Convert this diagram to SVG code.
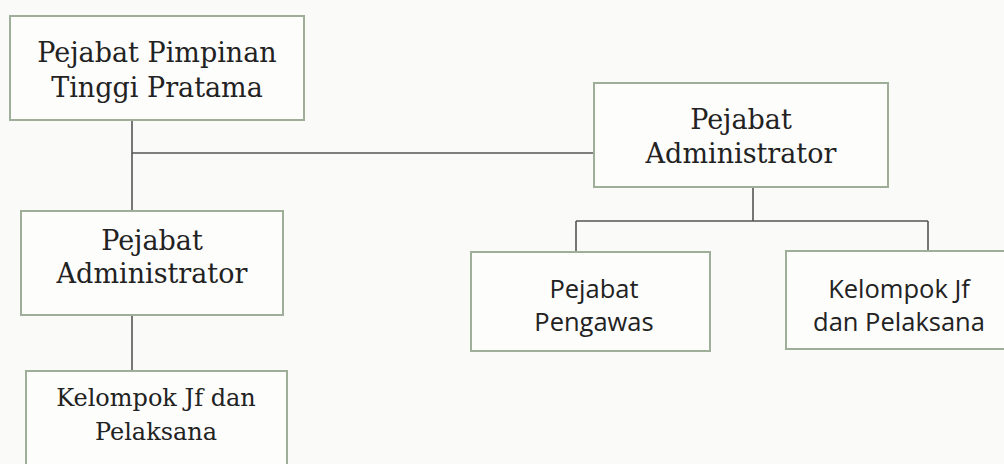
<svg xmlns="http://www.w3.org/2000/svg" width="1004" height="464" viewBox="0 0 1004 464">
<style>
.box{fill:#fdfdfc;stroke:#9fae98;stroke-width:2}
.ser{font-family:"DejaVu Serif","Liberation Serif",serif;fill:#222;text-anchor:middle}
.san{font-family:"Open Sans","Noto Sans","Liberation Sans",sans-serif;fill:#222;text-anchor:middle;font-size:25.5px}
.ln{stroke:#555;stroke-width:1.6;fill:none}
</style>
<rect width="1004" height="464" fill="#fafaf8"/>
<g id="connectors">
<line class="ln" x1="132" y1="120" x2="132" y2="211"/>
<line class="ln" x1="132" y1="153" x2="594" y2="153"/>
<line class="ln" x1="132" y1="315" x2="132" y2="371"/>
<line class="ln" x1="753" y1="187" x2="753" y2="221"/>
<line class="ln" x1="576" y1="221" x2="928" y2="221"/>
<line class="ln" x1="576" y1="221" x2="576" y2="252"/>
<line class="ln" x1="928" y1="221" x2="928" y2="251"/>
</g>
<g id="pimpinan">
<rect class="box" x="10" y="16" width="294" height="104"/>
<text class="ser" font-size="27" x="157" y="62">Pejabat Pimpinan</text>
<text class="ser" font-size="27" x="157" y="97">Tinggi Pratama</text>
</g>
<g id="admin-right">
<rect class="box" x="594" y="83" width="294" height="104"/>
<text class="ser" font-size="27" x="741" y="129">Pejabat</text>
<text class="ser" font-size="27" x="741" y="163">Administrator</text>
</g>
<g id="admin-left">
<rect class="box" x="21" y="211" width="262" height="104"/>
<text class="ser" font-size="27" x="152" y="250">Pejabat</text>
<text class="ser" font-size="27" x="152" y="283">Administrator</text>
</g>
<g id="kelompok-left">
<rect class="box" x="26" y="371" width="261" height="110"/>
<text class="ser" font-size="24" x="156" y="406">Kelompok Jf dan</text>
<text class="ser" font-size="24" x="156" y="440">Pelaksana</text>
</g>
<g id="pengawas">
<rect class="box" x="471" y="252" width="239" height="99"/>
<text class="san" x="594" y="298">Pejabat</text>
<text class="san" x="594" y="331">Pengawas</text>
</g>
<g id="kelompok-right">
<rect class="box" x="786" y="251" width="230" height="98"/>
<text class="san" x="899" y="298">Kelompok Jf</text>
<text class="san" x="899" y="331">dan Pelaksana</text>
</g>
</svg>
